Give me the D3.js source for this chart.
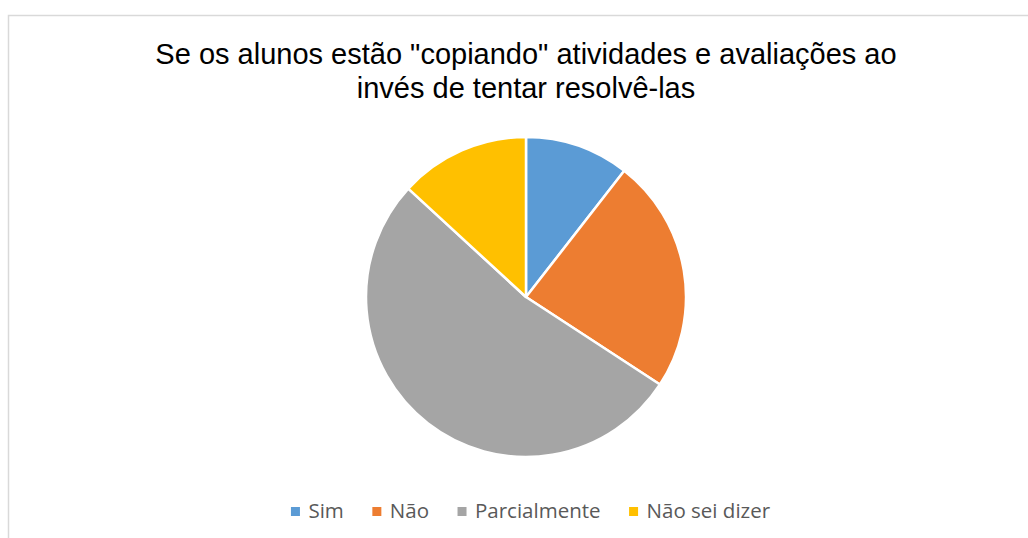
<!DOCTYPE html>
<html>
<head>
<meta charset="utf-8">
<script src="https://cdn.jsdelivr.net/npm/d3@7"></script>
<style>
  body { margin: 0; background: #fff; }
  svg { display: block; }
</style>
</head>
<body>
<div id="chart"></div>
<script>
// data
const categories = ['Sim', 'Não', 'Parcialmente', 'Não sei dizer'];
const values = [8, 18, 40, 10];
const colors = ['#5b9bd5', '#ed7d31', '#a5a5a5', '#ffc000'];
const titleLines = ['Se os alunos estão "copiando" atividades e avaliações ao', 'invés de tentar resolvê-las'];

const width = 1028;
const height = 538;
const cx = 526;
const cy = 297;
const radius = 160;

const $svg = d3.select('#chart').append('svg')
  .attr('width', width)
  .attr('height', height);

// chart area border (cut off at right / bottom like the source)
$svg.append('rect')
  .attr('x', 8.5)
  .attr('y', 15.5)
  .attr('width', width + 20)
  .attr('height', height + 20)
  .attr('fill', '#fff')
  .attr('stroke', '#d9d9d9')
  .attr('stroke-width', 1.5);

// title
$svg.append('g').attr('class', 'title')
  .selectAll('text')
  .data(titleLines)
  .join('text')
  .attr('x', cx)
  .attr('y', (d, i) => 64 + i * 34)
  .attr('text-anchor', 'middle')
  .attr('font-family', '"Liberation Sans", Arial, sans-serif')
  .attr('font-size', 29)
  .attr('fill', '#000')
  .text(d => d);

// pie
const pie = d3.pie().sort(null).value(d => d.value);
const arc = d3.arc().innerRadius(0).outerRadius(radius);
const pieData = pie(categories.map((c, i) => ({ name: c, value: values[i] })));

$svg.append('g')
  .attr('transform', `translate(${cx},${cy})`)
  .selectAll('path')
  .data(pieData)
  .join('path')
  .attr('d', arc)
  .attr('fill', (d, i) => colors[i])
  .attr('stroke', '#fff')
  .attr('stroke-width', 2.5)
  .attr('stroke-linejoin', 'round');

// legend
const $legend = $svg.append('g').attr('class', 'legend');
const items = $legend.selectAll('g')
  .data(categories)
  .join('g');

items.append('rect')
  .attr('width', 9)
  .attr('height', 9)
  .attr('y', -11)
  .attr('fill', (d, i) => colors[i]);

items.append('text')
  .attr('x', 17.5)
  .attr('y', 0)
  .attr('font-family', '"Open Sans", sans-serif')
  .attr('font-size', 20.5)
  .attr('fill', '#595959')
  .text(d => d);

let xPos = 0;
items.each(function() {
  const w = d3.select(this).select('text').node().getComputedTextLength();
  d3.select(this).attr('transform', `translate(${xPos},0)`);
  xPos += 17.5 + w + 28.5;
});
const legendW = xPos - 28.5;
$legend.attr('transform', `translate(${530.5 - legendW / 2},${518})`);
</script>
</body>
</html>
